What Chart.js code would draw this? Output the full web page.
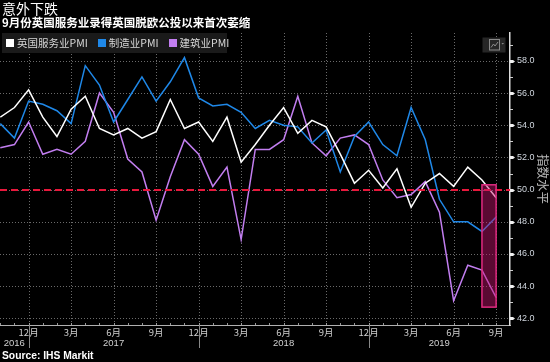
<!DOCTYPE html>
<html>
<head>
<meta charset="utf-8">
<script src="https://cdn.jsdelivr.net/npm/chart.js@4/dist/chart.umd.min.js"></script>
<style>
  body { margin: 0; background: #000; }
  #wrap { position: relative; width: 550px; height: 362px; background: #000; overflow: hidden;
          font-family: "Noto Sans CJK SC", sans-serif; }
  #chart { position: absolute; left: 0; top: 0; }
  #title { position: absolute; left: 2px; top: -1px; color: #fff; font-size: 14px; line-height: 18px; }
  #subtitle { position: absolute; left: 2px; top: 15px; color: #fff; font-size: 11.5px; font-weight: bold; line-height: 14px; white-space: nowrap; }
  #legend { position: absolute; left: 2px; top: 33px; width: 225px; height: 20px; background: #1a1a1a;
            display: flex; align-items: center; color: #d8d8d8; font-size: 10.5px; line-height: 20px; white-space: nowrap; }
  #legend .item { display: flex; align-items: center; flex-shrink: 0; margin-left: 4px; margin-right: 6px; }
  #legend .sw { width: 8px; height: 8px; margin-right: 3px; flex-shrink: 0; }
  #source { position: absolute; left: 2px; top: 349px; color: #fff; font: bold 10.3px "Liberation Sans", Arial, sans-serif; line-height: 14px; }
</style>
</head>
<body>
<div id="wrap">
  <canvas id="chart" width="550" height="362"></canvas>
  <div id="title">意外下跌</div>
  <div id="subtitle">9月份英国服务业录得英国脱欧公投以来首次萎缩</div>
  <div id="legend"></div>
  <div id="source">Source: IHS Markit</div>
</div>
<script>
// monthly data, Oct 2016 .. Sep 2019 (index 0 = Oct 2016)
const startMonth = 10;
const services = [54.5, 55.1, 56.2, 54.5, 53.3, 55.0, 55.8, 53.8, 53.4, 53.8, 53.2, 53.6,
                  55.6, 53.8, 54.2, 53.0, 54.5, 51.7, 52.8, 54.0, 55.1, 53.5, 54.3, 53.9,
                  52.2, 50.4, 51.2, 50.1, 51.3, 48.9, 50.4, 51.0, 50.2, 51.4, 50.6, 49.5];
const manufacturing = [54.1, 53.2, 55.5, 55.3, 54.9, 54.1, 57.7, 56.5, 54.2, 55.6, 57.0, 55.5,
                       56.7, 58.2, 55.7, 55.2, 55.3, 54.8, 53.8, 54.3, 54.0, 53.9, 52.9, 53.7,
                       51.1, 53.3, 54.2, 52.8, 52.1, 55.1, 53.1, 49.4, 48.0, 48.0, 47.4, 48.3];
const construction = [52.6, 52.8, 54.2, 52.2, 52.5, 52.2, 53.0, 56.0, 54.8, 51.9, 51.1, 48.1,
                      50.8, 53.1, 52.2, 50.2, 51.4, 46.9, 52.5, 52.5, 53.1, 55.8, 52.9, 52.1,
                      53.2, 53.4, 52.8, 50.6, 49.5, 49.7, 50.5, 48.6, 43.1, 45.3, 45.0, 43.3];
const seriesNames = ['英国服务业PMI', '制造业PMI', '建筑业PMI'];

// axis ticks
const quarterTicks = [2, 5, 8, 11, 14, 17, 20, 23, 26, 29, 32, 35];
const yearLabels = ['2016', '2017', '2018', '2019'];
const yearBreaks = [2, 14, 26];
const yTicks = [42, 44, 46, 48, 50, 52, 54, 56, 58];
const threshold = 50;
const highlightMonths = [34, 35];
const highlightRange = [42.7, 50.3];

const colors = ['#ffffff', '#1f88e8', '#c27ef0'];
const toPoints = arr => arr.map((v, i) => ({ x: i, y: v }));
const monthName = i => ((startMonth - 1 + i) % 12 + 1) + '月';

// legend
const legendEl = document.getElementById('legend');
seriesNames.forEach((name, i) => {
  legendEl.innerHTML += `<span class="item"><span class="sw" style="background:${colors[i]}"></span>${name}</span>`;
});

const decorPlugin = {
  id: 'decor',
  beforeDatasetsDraw(chart) {
    // dotted grid
    const { ctx, chartArea, scales: { x, y } } = chart;
    ctx.save();
    ctx.strokeStyle = '#6a6a6a';
    ctx.lineWidth = 1;
    ctx.setLineDash([1, 2]);
    quarterTicks.forEach(v => {
      const px = Math.round(x.getPixelForValue(v)) + 0.5;
      ctx.beginPath();
      ctx.moveTo(px, chartArea.top);
      ctx.lineTo(px, chartArea.bottom);
      ctx.stroke();
    });
    yTicks.forEach(v => {
      const py = Math.round(y.getPixelForValue(v)) + 0.5;
      ctx.beginPath();
      ctx.moveTo(chartArea.left, py);
      ctx.lineTo(chartArea.right, py);
      ctx.stroke();
    });
    ctx.restore();
  },
  afterDatasetsDraw(chart) {
    const { ctx, chartArea, scales: { x, y } } = chart;
    // 50 line
    const y50 = Math.round(y.getPixelForValue(threshold));
    ctx.save();
    ctx.strokeStyle = '#e8183c';
    ctx.lineWidth = 2;
    ctx.setLineDash([7, 4]);
    ctx.beginPath();
    ctx.moveTo(chartArea.left, y50);
    ctx.lineTo(chartArea.right, y50);
    ctx.stroke();
    ctx.setLineDash([]);
    // highlight box
    const x0 = x.getPixelForValue(highlightMonths[0]);
    const x1 = x.getPixelForValue(highlightMonths[1]);
    const yt = y.getPixelForValue(highlightRange[1]);
    const yb = y.getPixelForValue(highlightRange[0]);
    ctx.fillStyle = 'rgba(200, 20, 110, 0.45)';
    ctx.fillRect(x0, yt, x1 - x0, yb - yt);
    ctx.strokeStyle = '#e02a80';
    ctx.lineWidth = 1.5;
    ctx.strokeRect(x0, yt, x1 - x0, yb - yt);
    ctx.restore();
  },
  afterDraw(chart) {
    const { ctx, chartArea, scales: { x, y } } = chart;
    ctx.save();
    // y axis tick marks
    ctx.fillStyle = '#f0f0f0';
    ctx.strokeStyle = '#cccccc';
    ctx.lineWidth = 1;
    const ax = chartArea.right;
    for (let v = Math.ceil(y.min); v <= y.max; v++) {
      const py = Math.round(y.getPixelForValue(v)) + 0.5;
      if (yTicks.includes(v)) {
        ctx.beginPath();
        ctx.moveTo(ax, py - 1.5);
        ctx.lineTo(ax + 3, py - 1.5);
        ctx.lineTo(ax + 5, py);
        ctx.lineTo(ax + 3, py + 1.5);
        ctx.lineTo(ax, py + 1.5);
        ctx.closePath();
        ctx.fill();
      } else {
        ctx.beginPath();
        ctx.moveTo(ax, py);
        ctx.lineTo(ax + 3, py);
        ctx.stroke();
      }
    }
    // x axis month ticks
    ctx.strokeStyle = '#999999';
    const base = chartArea.bottom;
    for (let i = 0; i < services.length + 1; i++) {
      const px = Math.round(x.getPixelForValue(i)) + 0.5;
      if (px > chartArea.right) break;
      ctx.beginPath();
      ctx.moveTo(px, base);
      ctx.lineTo(px, base - 2);
      ctx.stroke();
    }
    // year separators
    ctx.strokeStyle = '#888888';
    yearBreaks.forEach(b => {
      const px = Math.round(x.getPixelForValue(b)) + 0.5;
      ctx.beginPath();
      ctx.moveTo(px, base);
      ctx.lineTo(px, base + 23);
      ctx.stroke();
    });
    // year labels
    ctx.fillStyle = '#d0d0d0';
    ctx.font = '9.5px "Liberation Sans", Arial, sans-serif';
    ctx.textAlign = 'center';
    ctx.textBaseline = 'middle';
    const edges = [x.min, ...yearBreaks, x.max];
    yearLabels.forEach((lab, i) => {
      const cx = (x.getPixelForValue(edges[i]) + x.getPixelForValue(edges[i + 1])) / 2;
      ctx.fillText(lab, cx, base + 18);
    });
    // chart type icon
    ctx.fillStyle = '#262626';
    ctx.fillRect(482.5, 37.5, 23, 15);
    ctx.strokeStyle = '#8a8a8a';
    ctx.strokeRect(489.5, 39.5, 10, 10.5);
    ctx.beginPath();
    ctx.moveTo(491, 47.5); ctx.lineTo(493.5, 44); ctx.lineTo(495, 46); ctx.lineTo(498, 42);
    ctx.stroke();
    ctx.fillStyle = '#8a8a8a';
    ctx.beginPath();
    ctx.moveTo(501.5, 43); ctx.lineTo(504, 43); ctx.lineTo(502.75, 44.5);
    ctx.closePath();
    ctx.fill();
    ctx.restore();
  }
};

new Chart(document.getElementById('chart'), {
  type: 'line',
  data: {
    datasets: [services, manufacturing, construction].map((arr, i) => ({
      label: seriesNames[i],
      data: toPoints(arr),
      borderColor: colors[i],
      borderWidth: 1.5,
      pointRadius: 0,
      tension: 0,
      fill: false
    }))
  },
  options: {
    responsive: false,
    animation: false,
    devicePixelRatio: 1,
    layout: { padding: { top: 33, left: 0, right: 0, bottom: 0 } },
    plugins: { legend: { display: false }, tooltip: { enabled: false } },
    scales: {
      x: {
        type: 'linear',
        min: -0.02,
        max: 35.98,
        afterBuildTicks: scale => { scale.ticks = quarterTicks.map(v => ({ value: v })); },
        afterFit: scale => { scale.height = 37; },
        grid: { display: false, drawTicks: false },
        border: { display: true, color: '#b0b0b0', width: 1 },
        ticks: {
          autoSkip: false, maxRotation: 0, padding: 2, color: '#d0d0d0',
          font: { family: '"Noto Sans CJK SC"', size: 9.5 },
          callback: v => monthName(v)
        }
      },
      y: {
        position: 'right',
        min: 41.59,
        max: 59.73,
        afterBuildTicks: scale => { scale.ticks = yTicks.map(v => ({ value: v })); },
        afterFit: scale => { scale.width = 40; },
        grid: { display: false, drawTicks: false },
        border: { display: true, color: '#dddddd', width: 1.5 },
        ticks: {
          padding: 7, color: '#d0d6de',
          font: { family: '"Liberation Sans", Arial', size: 9 },
          callback: v => v.toFixed(1)
        },
        title: {
          display: true, text: '指数水平', color: '#b8b8b8',
          font: { family: '"Noto Sans CJK SC"', size: 12.5 },
          padding: { top: 0, bottom: 0 }
        }
      }
    }
  },
  plugins: [decorPlugin]
});
</script>
</body>
</html>
